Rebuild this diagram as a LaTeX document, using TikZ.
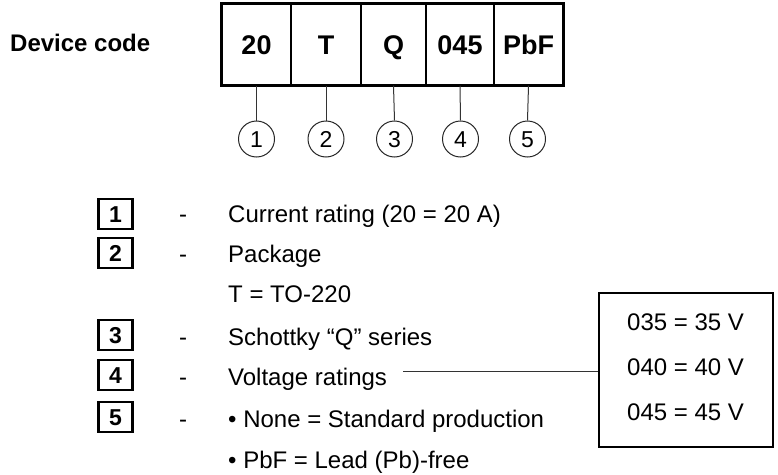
\documentclass[tikz,border=0pt]{standalone}
\usepackage{fontspec}
\setmainfont{Liberation Sans}
\begin{document}
\begin{tikzpicture}[x=1pt,y=1pt,
  cell/.style={draw, line width=1.3pt, minimum height=81pt, inner sep=0pt, text height=19.5pt, text depth=0pt, font=\fontsize{27}{30}\selectfont\bfseries},
  circ/.style={circle, draw=black!85, line width=1pt, minimum size=36pt, inner sep=0pt, text height=16.5pt, text depth=0pt, font=\fontsize{23}{25}\selectfont},
  conn/.style={draw=black!80, line width=1pt},
  numbox/.style={draw, line width=2.2pt, minimum width=34pt, minimum height=30pt, inner sep=0pt, text height=16.5pt, text depth=0pt, font=\fontsize{23}{26}\selectfont\bfseries},
  body/.style={anchor=base west, inner sep=0pt, font=\fontsize{24}{28}\selectfont},
  dashtxt/.style={anchor=base, inner sep=0pt, font=\fontsize{24}{28}\selectfont}]
\useasboundingbox (0,0) rectangle (778,-474);
% heading
\node[anchor=base west, inner sep=0pt, font=\fontsize{24}{28}\selectfont\bfseries] (dev) at (10,-51.5) {Device code};
% code cells
\node[cell, minimum width=69pt] (c1) at (256.5,-44.5) {20};
\node[cell, minimum width=70pt] (c2) at (326,-44.5) {T};
\node[cell, minimum width=65pt] (c3) at (393.5,-44.5) {Q};
\node[cell, minimum width=68pt] (c4) at (460,-44.5) {045};
\node[cell, minimum width=69pt] (c5) at (528.5,-44.5) {PbF};
\draw[line width=2.6pt] (c1.north west) rectangle (c5.south east);
% circles
\foreach \i/\x in {1/256.5,2/326,3/394.5,4/460.5,5/527.5}{
  \node[circ] (n\i) at (\x,-139) {\i};
}
\foreach \i in {1,...,5}{
  \draw[conn] (c\i.south |- c1.south) -- (n\i.north);
}
% legend boxes
\node[numbox] (b1) at (115.5,-214) {1};
\node[numbox] (b2) at (115.5,-253) {2};
\node[numbox] (b3) at (115.5,-335) {3};
\node[numbox] (b4) at (115.5,-375) {4};
\node[numbox] (b5) at (115.5,-417) {5};
% dashes
\node[dashtxt] (d1) at (183,-222) {-};
\node[dashtxt] (d2) at (183,-262) {-};
\node[dashtxt] (d3) at (183,-345) {-};
\node[dashtxt] (d4) at (183,-385) {-};
\node[dashtxt] (d5) at (183,-427) {-};
% texts
\node[body] (t1) at (228,-222) {Current rating (20 = 20 A)};
\node[body] (t2) at (228,-262) {Package};
\node[body] (t2b) at (228,-302) {T = TO-220};
\node[body] (t3) at (228,-345) {Schottky “Q” series};
\node[body] (t4) at (228,-385) {Voltage ratings};
\node[body] (t5) at (228,-427) {\textbullet\ None = Standard production};
\node[body] (t5b) at (228,-468) {\textbullet\ PbF = Lead (Pb)-free};
% voltage box
\node[draw, line width=1.3pt, minimum width=174pt, minimum height=154pt, inner sep=0pt] (vbox) at (686,-370) {};
\node[body] (v1) at (627,-330) {035 = 35 V};
\node[body] (v2) at (627,-375) {040 = 40 V};
\node[body] (v3) at (627,-420) {045 = 45 V};
\coordinate (lstart) at (403,-371);
\draw[conn] (lstart) -- (lstart -| vbox.west);
\end{tikzpicture}
\end{document}
